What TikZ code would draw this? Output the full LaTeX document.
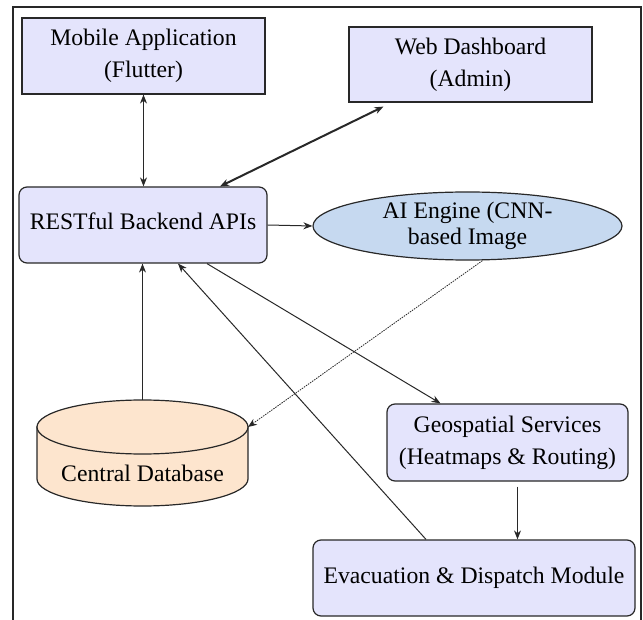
\documentclass[tikz,border=0pt]{standalone}
\usepackage{fontspec}
\setmainfont{Liberation Serif}
\usetikzlibrary{arrows.meta,shapes.geometric}

\definecolor{boxfill}{RGB}{228,228,252}
\definecolor{aifill}{RGB}{198,217,240}
\definecolor{dbfill}{RGB}{253,229,206}
\definecolor{edge}{RGB}{40,40,40}

\tikzset{
  box/.style={draw=edge, line width=1.2pt, fill=boxfill, align=center, inner sep=0pt,
    font=\fontsize{23.7}{32}\selectfont},
  rbox/.style={box, rounded corners=8pt},
  link/.style={-{Stealth[length=9pt,width=7pt]}, line width=1pt, draw=edge},
  both/.style={link, {Stealth[length=9pt,width=7pt]}-{Stealth[length=9pt,width=7pt]}},
}

\begin{document}
\begin{tikzpicture}[x=1pt,y=-1pt]
        \useasboundingbox (0,0) rectangle (643,620);

        % Frame (open at the bottom)
        \draw[line width=1.2pt, edge] (13,620) -- (13,7) -- (641,7) -- (641,620);

        % Clients
        \node[box, minimum width=243pt, minimum height=76pt] (mobile) at (143.5,56) {Mobile Application\\(Flutter)};
        \node[box, minimum width=243pt, minimum height=75pt] (web) at (470.5,64.5) {Web Dashboard\\(Admin)};

        % Backend and AI engine
        \node[rbox, minimum width=248pt, minimum height=76pt] (rest) at (143,225) {\raisebox{8pt}{RESTful Backend APIs}};
        \node[ellipse, draw=edge, line width=1.2pt, fill=aifill, minimum width=309pt, minimum height=68pt,
              inner sep=0pt, align=center, font=\fontsize{23.7}{26}\selectfont] (ai) at (467.5,226) {AI Engine (CNN-\\based Image};

        % Database cylinder
        \filldraw[fill=dbfill, draw=edge, line width=1.2pt] (37,427) -- (37,479)
            arc[start angle=180, end angle=0, x radius=105.5, y radius=27] -- (248,427) -- cycle;
        \filldraw[fill=dbfill, draw=edge, line width=1.2pt] (142.5,427) ellipse[x radius=105.5, y radius=27];
        \node[font=\fontsize{23.7}{32}\selectfont, inner sep=0pt] (db) at (142.5,473) {Central Database};
        \coordinate (dbtop) at (142.5,400);
        \coordinate (dbrim) at (248,427);

        % Services
        \node[rbox, minimum width=241pt, minimum height=77pt] (geo) at (507.5,442.5) {Geospatial Services\\(Heatmaps \& Routing)};
        \node[rbox, minimum width=322pt, minimum height=76pt] (evac) at (474,578) {\raisebox{3pt}{Evacuation \& Dispatch Module}};

        % Connections
        \draw[both] (mobile.south) -- (mobile.south |- rest.north);
        \draw[both, line width=2pt] ([xshift=77pt]rest.north) -- ([xshift=-87pt,yshift=-4pt]web.south);
        \draw[link] (rest.east) -- (ai.west);
        \draw[link] (dbtop) -- (dbtop |- rest.south);
        \draw[link, dash pattern=on 1.5pt off 1pt, line width=0.8pt] ([xshift=15pt]ai.south) -- (dbrim);
        \draw[link] ([xshift=64pt]rest.south) -- ([xshift=-67pt]geo.north);
        \draw[link] ([xshift=-48pt]evac.north) -- ([xshift=35pt]rest.south);
        \draw[link] ([xshift=10pt,yshift=-5pt]geo.south) -- ([xshift=10pt]geo.south |- evac.north);

\end{tikzpicture}
\end{document}
